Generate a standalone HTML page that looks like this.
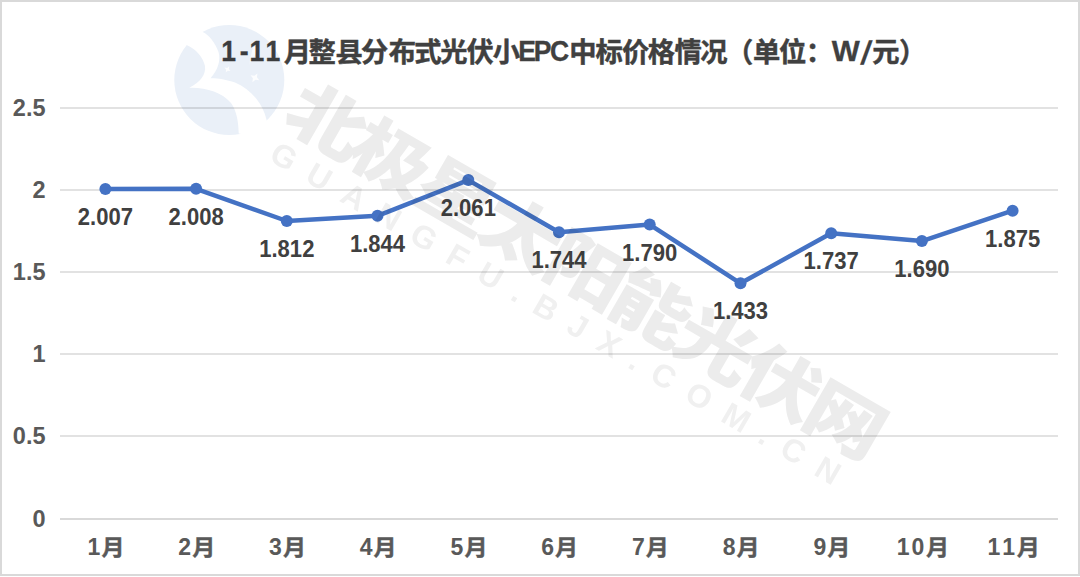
<!DOCTYPE html>
<html lang="zh-CN">
<head>
<meta charset="utf-8">
<title>1-11月整县分布式光伏小EPC中标价格情况</title>
<style>
html,body{margin:0;padding:0;background:#fff;}
body{width:1080px;height:577px;overflow:hidden;position:relative;}
#frame{position:absolute;left:0;top:0;width:1080px;height:576px;box-sizing:border-box;border:2px solid #d9d9d9;}
svg{position:absolute;left:0;top:0;}
.t{font-family:"Liberation Sans","Noto Sans CJK SC",sans-serif;font-weight:bold;}
</style>
</head>
<body>
<svg width="1080" height="577" viewBox="0 0 1080 577">
<g stroke="#e2e2e2" stroke-width="2" shape-rendering="crispEdges"><line x1="60" y1="108" x2="1058" y2="108"/><line x1="60" y1="190" x2="1058" y2="190"/><line x1="60" y1="272" x2="1058" y2="272"/><line x1="60" y1="354" x2="1058" y2="354"/><line x1="60" y1="436" x2="1058" y2="436"/></g><line x1="60" y1="519" x2="1058" y2="519" stroke="#d9d9d9" stroke-width="2" shape-rendering="crispEdges"/>
<polyline fill="none" stroke="#4472c4" stroke-width="4.5" stroke-linejoin="round" points="105.4,189.0 196.1,188.8 286.8,221.0 377.5,215.8 468.3,180.1 559.0,232.2 649.7,224.6 740.5,283.3 831.2,233.3 921.9,241.1 1012.6,210.7"/><g fill="#4472c4"><circle cx="105.4" cy="189.0" r="6"/><circle cx="196.1" cy="188.8" r="6"/><circle cx="286.8" cy="221.0" r="6"/><circle cx="377.5" cy="215.8" r="6"/><circle cx="468.3" cy="180.1" r="6"/><circle cx="559.0" cy="232.2" r="6"/><circle cx="649.7" cy="224.6" r="6"/><circle cx="740.5" cy="283.3" r="6"/><circle cx="831.2" cy="233.3" r="6"/><circle cx="921.9" cy="241.1" r="6"/><circle cx="1012.6" cy="210.7" r="6"/></g>
<g class="t" fill="#595959" font-size="23.5" text-anchor="end"><text x="45.5" y="115.9">2.5</text><text x="45.5" y="197.9">2</text><text x="45.5" y="280.1">1.5</text><text x="45.5" y="362.2">1</text><text x="45.5" y="444.4">0.5</text><text x="45.5" y="526.6">0</text></g>
<g class="t" fill="#595959" font-size="23"><text x="94.0" y="555" text-anchor="middle">1</text><text transform="translate(101.5,555) scale(1.05,1)" font-size="22" stroke="#595959" stroke-width="0.4">月</text><text x="184.7" y="555" text-anchor="middle">2</text><text transform="translate(192.2,555) scale(1.05,1)" font-size="22" stroke="#595959" stroke-width="0.4">月</text><text x="275.4" y="555" text-anchor="middle">3</text><text transform="translate(282.9,555) scale(1.05,1)" font-size="22" stroke="#595959" stroke-width="0.4">月</text><text x="366.1" y="555" text-anchor="middle">4</text><text transform="translate(373.6,555) scale(1.05,1)" font-size="22" stroke="#595959" stroke-width="0.4">月</text><text x="456.9" y="555" text-anchor="middle">5</text><text transform="translate(464.4,555) scale(1.05,1)" font-size="22" stroke="#595959" stroke-width="0.4">月</text><text x="547.6" y="555" text-anchor="middle">6</text><text transform="translate(555.1,555) scale(1.05,1)" font-size="22" stroke="#595959" stroke-width="0.4">月</text><text x="638.3" y="555" text-anchor="middle">7</text><text transform="translate(645.8,555) scale(1.05,1)" font-size="22" stroke="#595959" stroke-width="0.4">月</text><text x="729.1" y="555" text-anchor="middle">8</text><text transform="translate(736.6,555) scale(1.05,1)" font-size="22" stroke="#595959" stroke-width="0.4">月</text><text x="819.8" y="555" text-anchor="middle">9</text><text transform="translate(827.3,555) scale(1.05,1)" font-size="22" stroke="#595959" stroke-width="0.4">月</text><text x="903.2" y="555" text-anchor="middle">1</text><text x="917.9" y="555" text-anchor="middle">0</text><text transform="translate(926.0,555) scale(1.05,1)" font-size="22" stroke="#595959" stroke-width="0.4">月</text><text x="993.9" y="555" text-anchor="middle">1</text><text x="1008.6" y="555" text-anchor="middle">1</text><text transform="translate(1016.7,555) scale(1.05,1)" font-size="22" stroke="#595959" stroke-width="0.4">月</text></g>
<g class="t" fill="#404040" font-size="23.1" text-anchor="middle"><text transform="translate(105.4,225.0) scale(0.955,1)">2.007</text><text transform="translate(196.1,224.8) scale(0.955,1)">2.008</text><text transform="translate(286.8,257.0) scale(0.955,1)">1.812</text><text transform="translate(377.5,251.8) scale(0.955,1)">1.844</text><text transform="translate(468.3,216.1) scale(0.955,1)">2.061</text><text transform="translate(559.0,268.2) scale(0.955,1)">1.744</text><text transform="translate(649.7,260.6) scale(0.955,1)">1.790</text><text transform="translate(740.5,319.3) scale(0.955,1)">1.433</text><text transform="translate(831.2,269.3) scale(0.955,1)">1.737</text><text transform="translate(921.9,277.1) scale(0.955,1)">1.690</text><text transform="translate(1012.6,246.7) scale(0.955,1)">1.875</text></g>
<g class="t" fill="#404040" stroke="#404040" stroke-width="0.3"><text x="283.85 308.5 335.4 361.0 388.65 414.3 440.15 466.55 492.75 569.15 595.5 622.05 647.8 674.4 700.35 725.95 752.9 779.0 805.65 872.15 898.95" y="61.6" font-size="27.3" stroke="#404040" stroke-width="0.45">月整县分布式光伏小中标价格情况（单位：元）</text><text transform="translate(221.30,61.0) scale(0.900,1)" x="0" y="0" font-size="29.5">1</text><text transform="translate(239.70,61.0) scale(0.900,1)" x="0" y="0" font-size="29.5">-</text><text transform="translate(249.40,61.0) scale(0.900,1)" x="0" y="0" font-size="29.5">1</text><text transform="translate(265.50,61.0) scale(0.900,1)" x="0" y="0" font-size="29.5">1</text><text transform="translate(518.20,61.0) scale(0.900,1)" x="0" y="0" font-size="29.5">E</text><text transform="translate(533.75,61.0) scale(0.900,1)" x="0" y="0" font-size="29.5">P</text><text transform="translate(550.00,61.0) scale(0.900,1)" x="0" y="0" font-size="29.5">C</text><text transform="translate(831.80,61.0) scale(1.007,1)" x="0" y="0" font-size="29.5">W</text><text transform="translate(864.15,64.2) skewX(-11) scale(1.0,1.1)" x="0" y="0" font-size="29.5" text-anchor="middle">/</text></g>
<g style="mix-blend-mode:multiply"><circle cx="229.3" cy="80.0" r="55.0" fill="#eaf0f8"/><path d="M 186.6,44.9 C 196,49 203,57 205,66 C 206,74 201,82 189.2,87.7 C 205,87 222,92 231,103 C 236,110 238.5,120 238.7,133.5 L 270,140 L 266.6,120 C 263,104 252,90 235,82.5 C 226,79.5 216,78 210.5,78.3 C 218,70 221,60 218.5,52 C 215,42 209,35 202.7,31.9 L 195,25 Z" fill="#fff"/><polygon points="229.20,66.36 228.88,68.93 230.44,71.00 227.87,70.68 225.80,72.24 226.12,69.67 224.56,67.60 227.13,67.92" fill="#fff" fill-opacity="0.85" filter="url(#sb)"/><polygon points="257.40,73.47 256.93,77.26 259.23,80.30 255.44,79.83 252.40,82.13 252.87,78.34 250.57,75.30 254.36,75.77" fill="#fff" fill-opacity="0.85" filter="url(#sb)"/><defs><filter id="sb" x="-50%" y="-50%" width="200%" height="200%"><feGaussianBlur stdDeviation="0.45"/></filter><linearGradient id="cm" x1="256" y1="48" x2="248" y2="66" gradientUnits="userSpaceOnUse"><stop offset="0" stop-color="#fff" stop-opacity="1"/><stop offset="1" stop-color="#fff" stop-opacity="0"/></linearGradient></defs><path d="M 253,47.2 Q 256,45.5 259,48.6 L 248.3,66.5 Z" fill="url(#cm)"/><g font-family='"Liberation Sans","Noto Sans CJK SC",sans-serif' font-weight="900" font-size="72" fill="#ececec" stroke="#ececec" stroke-width="0" stroke-linejoin="miter" text-anchor="middle"><text transform="translate(328.0,120.5) rotate(30.0) skewX(0) scale(1.12,0.95)" y="27.4">北</text><text transform="translate(392.8,157.9) rotate(30.0) skewX(0) scale(1.12,0.95)" y="27.4">极</text><text transform="translate(457.5,195.3) rotate(30.0) skewX(0) scale(1.12,0.95)" y="27.4">星</text><text transform="translate(522.3,232.7) rotate(30.0) skewX(0) scale(1.12,0.95)" y="27.4">太</text><text transform="translate(587.1,270.1) rotate(30.0) skewX(0) scale(1.12,0.95)" y="27.4">阳</text><text transform="translate(651.9,307.5) rotate(30.0) skewX(0) scale(1.12,0.95)" y="27.4">能</text><text transform="translate(716.6,344.9) rotate(30.0) skewX(0) scale(1.12,0.95)" y="27.4">光</text><text transform="translate(781.4,382.3) rotate(30.0) skewX(0) scale(1.12,0.95)" y="27.4">伏</text><text transform="translate(846.2,419.7) rotate(30.0) skewX(0) scale(1.12,0.95)" y="27.4">网</text></g><g font-family='"Liberation Sans",sans-serif' font-weight="bold" font-size="32" fill="#f0f0f0" text-anchor="middle"><text transform="translate(284.2,156.0) rotate(30.0)" y="11.5">G</text><text transform="translate(319.6,176.4) rotate(30.0)" y="11.5">U</text><text transform="translate(354.2,196.4) rotate(30.0)" y="11.5">A</text><text transform="translate(388.7,216.4) rotate(30.0)" y="11.5">N</text><text transform="translate(424.2,236.8) rotate(30.0)" y="11.5">G</text><text transform="translate(457.9,256.3) rotate(30.0)" y="11.5">F</text><text transform="translate(490.7,275.2) rotate(30.0)" y="11.5">U</text><text transform="translate(518.5,291.3) rotate(30.0)" y="11.5">.</text><text transform="translate(546.2,307.3) rotate(30.0)" y="11.5">B</text><text transform="translate(578.2,325.7) rotate(30.0)" y="11.5">J</text><text transform="translate(609.4,343.7) rotate(30.0)" y="11.5">X</text><text transform="translate(636.2,359.2) rotate(30.0)" y="11.5">.</text><text transform="translate(663.9,375.2) rotate(30.0)" y="11.5">C</text><text transform="translate(699.4,395.7) rotate(30.0)" y="11.5">O</text><text transform="translate(736.5,417.1) rotate(30.0)" y="11.5">M</text><text transform="translate(765.9,434.1) rotate(30.0)" y="11.5">.</text><text transform="translate(793.7,450.1) rotate(30.0)" y="11.5">C</text><text transform="translate(828.2,470.1) rotate(30.0)" y="11.5">N</text></g></g>
</svg>
<div id="frame"></div>
</body>
</html>
